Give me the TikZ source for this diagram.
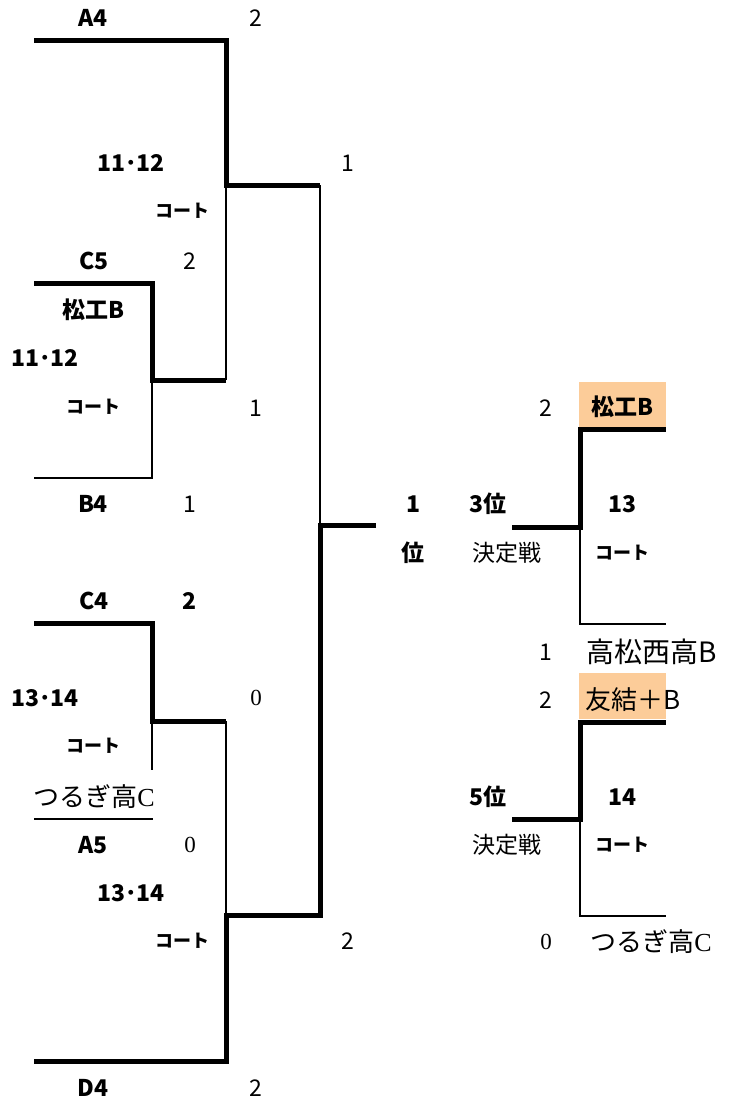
\documentclass[tikz,border=0pt]{standalone}
\usepackage{fontspec}
\setmainfont{Noto Sans CJK JP}
\newfontfamily\romanfont{Liberation Serif}
\usepackage{xcolor}
\definecolor{winbox}{RGB}{252,204,153}
\tikzset{
  win/.style={line width=5pt},
  lose/.style={line width=1.2pt},
  team/.style={inner sep=0pt,font=\bfseries\fontsize{23}{23}\selectfont},
  score/.style={inner sep=0pt,font=\fontsize{23}{23}\selectfont},
  rscore/.style={inner sep=0pt,font=\romanfont\fontsize{23}{23}\selectfont},
  court/.style={inner sep=0pt,font=\bfseries\fontsize{18}{18}\selectfont},
  big/.style={inner sep=0pt,font=\fontsize{26}{26}\selectfont}
}

\begin{document}
\begin{tikzpicture}[x=1pt,y=-1pt]
  \useasboundingbox (0,0) rectangle (733,1113);

  % left half
  \coordinate (A4e) at (34,41);
  \coordinate (A4c) at (226,41);
  \coordinate (Q1) at (226,185);
  \coordinate (S1) at (320,185);
  \coordinate (C5e) at (34,283);
  \coordinate (C5c) at (152,283);
  \coordinate (R1) at (152,380);
  \coordinate (Q1b) at (226,380);
  \coordinate (B4c) at (152,478);
  \coordinate (B4e) at (34,478);
  \coordinate (F) at (376,525);
  \coordinate (S0) at (320,525);
  \coordinate (S2) at (320,915);
  \coordinate (Q2) at (226,915);
  \coordinate (D4c) at (226,1061);
  \coordinate (D4e) at (34,1061);
  \coordinate (C4e) at (34,623);
  \coordinate (C4c) at (152,623);
  \coordinate (R2) at (152,721);
  \coordinate (Q2b) at (226,721);
  \coordinate (R2b) at (152,770);
  \coordinate (A5e) at (34,819);
  \coordinate (A5c) at (153,819);

  \draw[win] (A4e) -- (A4c) -- (Q1) -- (S1);
  \draw[lose] (Q1) -- (Q1b);
  \draw[lose] (S1) -- (S0);
  \draw[win] (C5e) -- (C5c) -- (R1) -- (Q1b);
  \draw[lose] (R1) -- (B4c) -- (B4e);
  \draw[win] (F) -- (S0) -- (S2) -- (Q2) -- (D4c) -- (D4e);
  \draw[win] (C4e) -- (C4c) -- (R2) -- (Q2b);
  \draw[lose] (R2) -- (R2b);
  \draw[lose] (A5e) -- (A5c);
  \draw[lose] (Q2b) -- (Q2);

  % right half
  \fill[winbox] (579,382) rectangle (666,428);
  \fill[winbox] (579,673) rectangle (666,719);

  \coordinate (T3) at (512,527);
  \coordinate (U3) at (580,527);
  \coordinate (U3a) at (580,429);
  \coordinate (W3a) at (666,429);
  \coordinate (U3b) at (580,624);
  \coordinate (W3b) at (666,624);
  \coordinate (T5) at (512,819);
  \coordinate (U5) at (580,819);
  \coordinate (U5a) at (580,722);
  \coordinate (W5a) at (666,722);
  \coordinate (U5b) at (580,916);
  \coordinate (W5b) at (666,916);

  \draw[win] (T3) -- (U3) -- (U3a) -- (W3a);
  \draw[lose] (U3) -- (U3b) -- (W3b);
  \draw[win] (T5) -- (U5) -- (U5a) -- (W5a);
  \draw[lose] (U5) -- (U5b) -- (W5b);

  % labels, left
  \node[team] (tA4) at (93,18) {A4};
  \node[score] (sA4) at (256,18) {2};
  \node[team] (ct1) at (131,163) {11･12};
  \node[court] (co1) at (182,211) {コート};
  \node[score] (sQ1) at (348,163) {1};
  \node[team] (tC5) at (94,261) {C5};
  \node[score] (sC5) at (190,261) {2};
  \node[team] (tR1) at (93,310) {松工B};
  \node[team] (ct2) at (45,358) {11･12};
  \node[court] (co2) at (93,407) {コート};
  \node[score] (sR1) at (256,408) {1};
  \node[team] (tB4) at (93,504) {B4};
  \node[score] (sB4) at (190,504) {1};
  \node[team] (tC4) at (94,601) {C4};
  \node[team] (sC4) at (190,601) {2};
  \node[team] (ct3) at (45,698) {13･14};
  \node[rscore] (sR2) at (256,698) {0};
  \node[court] (co3) at (93,746) {コート};
  \node[big] (tR2) at (94,797) {つるぎ高{\romanfont C}};
  \node[team] (tA5) at (93,845) {A5};
  \node[rscore] (sA5) at (190,845) {0};
  \node[team] (ct4) at (131,893) {13･14};
  \node[court] (co4) at (182,941) {コート};
  \node[score] (sQ2) at (348,941) {2};
  \node[team] (tD4) at (93,1088) {D4};
  \node[score] (sD4) at (256,1088) {2};
  \node[team] (rk1) at (413,504) {1};
  \node[team] (rk1b) at (413,553) {位};

  % labels, right
  \node[score] (s3a) at (546,408) {2};
  \node[team] (t3a) at (622,407) {松工B};
  \node[team] (p3) at (488,504) {3位};
  \node[score] (k3) at (507,553) {決定戦};
  \node[team] (ct5) at (622,504) {13};
  \node[court] (co5) at (622,553) {コート};
  \node[score] (s3b) at (546,652) {1};
  \node[big, font=\fontsize{28}{28}\selectfont] (t3b) at (652,652) {高松西高B};
  \node[score] (s5a) at (546,700) {2};
  \node[big] (t5a) at (633,700) {友結＋B};
  \node[team] (p5) at (488,797) {5位};
  \node[score] (k5) at (507,845) {決定戦};
  \node[team] (ct6) at (622,797) {14};
  \node[court] (co6) at (622,845) {コート};
  \node[rscore] (s5b) at (546,942) {0};
  \node[big] (t5b) at (651,942) {つるぎ高{\romanfont C}};

\end{tikzpicture}
\end{document}
